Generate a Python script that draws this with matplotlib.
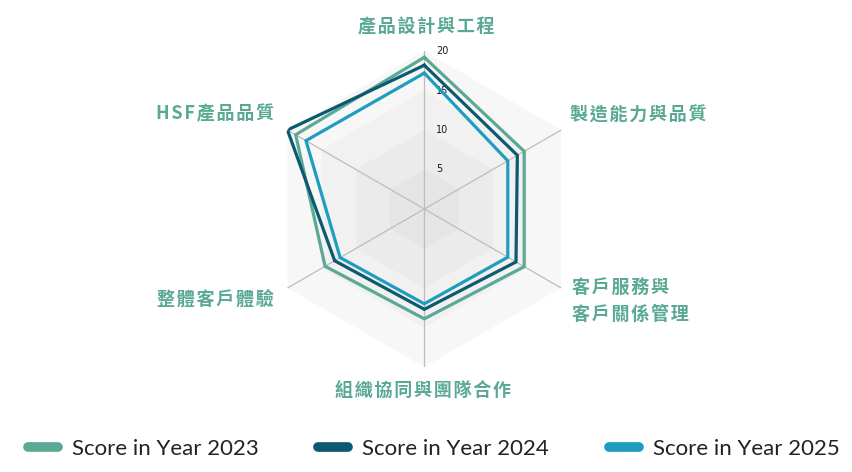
import numpy as np
import matplotlib.pyplot as plt
from matplotlib.lines import Line2D

# ---- data ----
categories = ['產品設計與工程', '製造能力與品質', '客戶服務與\n客戶關係管理',
              '組織協同與團隊合作', '整體客戶體驗', 'HSF產品品質']
series_names = ['Score in Year 2023', 'Score in Year 2024', 'Score in Year 2025']
score_2023 = [19.2, 14.6, 14.6, 13.9, 14.5, 18.8]
score_2024 = [18.2, 13.6, 13.4, 12.7, 13.1, 20.0]
score_2025 = [17.2, 12.2, 12.2, 12.0, 12.3, 17.3]
ring_levels = [5, 10, 15, 20]

# ---- style ----
COLORS = ['#5aa995', '#0b5a6f', '#1e9dbf']
LABEL_C = '#5aa995'
BANDS = ['#f7f7f7', '#f1f1f1', '#ebebeb', '#e5e5e5']
CJK = ['Noto Sans CJK TC', 'DejaVu Sans']

W, H = 852, 472
fig = plt.figure(figsize=(W / 100, H / 100), dpi=100)

# polar axes centred at (424, 209) px, radius ~158 px
cx, cy, R = 424.3, 209.0, 158.0
ax = fig.add_axes([(cx - R) / W, (H - cy - R) / H, 2 * R / W, 2 * R / H], projection='polar')
ax.set_theta_offset(np.pi / 2)
ax.set_theta_direction(-1)
ax.set_ylim(0, 20)
ax.set_axis_off()

n = len(categories)
theta = np.arange(n) * 2 * np.pi / n
theta_c = np.append(theta, theta[0])

# hexagon background bands
for lvl, col in zip(ring_levels[::-1], BANDS):
    ax.fill(theta_c, [lvl] * (n + 1), color=col, lw=0, zorder=0)

# spokes
for t in theta:
    ax.plot([t, t], [0, ring_levels[-1]], color='#bdbdbd', lw=0.9, zorder=1)

# ring labels
for lvl in ring_levels:
    ax.annotate(str(lvl), xy=(0, lvl), xytext=(8.5, 0), textcoords='offset points',
                fontsize=7, ha='left', va='center', color='#1a1a1a', zorder=2)

# series
for vals, col, name in zip([score_2023, score_2024, score_2025], COLORS, series_names):
    v = np.append(vals, vals[0])
    ax.plot(theta_c, v, color=col, lw=2.3, zorder=3, label=name, solid_joinstyle='miter')

# category labels, slightly letter-spaced with hair spaces
def spaced(s):
    return '\n'.join('\u200a'.join(line) for line in s.split('\n'))

label_pos = [(426, 27, 'center'), (570, 115, 'left'), (572, 301, 'left'),
             (423, 390, 'center'), (274, 300, 'right'), (274, 114, 'right')]
for txt, (x, y, ha) in zip(categories, label_pos):
    fig.text(x / W, 1 - y / H, spaced(txt), ha=ha, va='center', fontsize=13,
             fontweight='bold', color=LABEL_C, family=CJK, linespacing=1.55)

# legend with pill handles
handles = [Line2D([0], [0], color=c, lw=7, solid_capstyle='round') for c in COLORS]
fig.legend(handles, series_names, loc='center', bbox_to_anchor=(0.509, 1 - 449 / H),
           ncol=3, frameon=False, prop={'family': 'Lato', 'size': 16},
           handlelength=1.35, handletextpad=0.63, columnspacing=2.7, labelcolor='#222222')

fig.savefig('out.png', dpi=100)
